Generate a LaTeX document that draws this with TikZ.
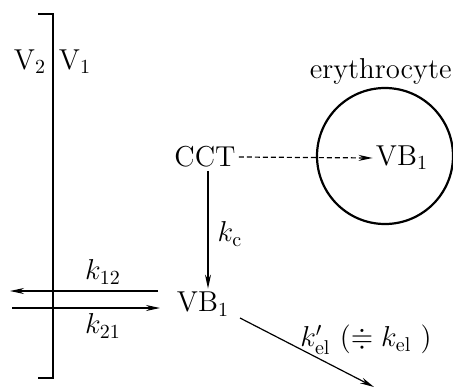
\documentclass[tikz,border=0pt]{standalone}
\usepackage{amssymb}
\usetikzlibrary{arrows.meta}
\begin{document}
\begin{tikzpicture}[x=0.5pt,y=-0.5pt,
  lbl/.style={inner sep=1.5pt,font=\fontsize{14.4}{17}\selectfont},
  arr/.style={line width=0.6pt,-{Stealth[length=7pt,width=3pt]}},
  brk/.style={line width=1.2pt}]
\useasboundingbox (0,0) rectangle (453,390);
\begin{scope}
\clip (0,0) rectangle (453,390);
\draw[line width=1.1pt] (385,156) circle [radius=68];
\end{scope}
% bracket
\coordinate (btl) at (38,14);
\coordinate (bt) at (53,14);
\coordinate (bb) at (53,378);
\coordinate (bbl) at (38,378);
\draw[brk] (btl) -- (bt) -- (bb) -- (bbl);
\node[lbl] (v2) at (30,62) {V$_2$};
\node[lbl] (v1) at (75,62) {V$_1$};
\node[lbl,anchor=east,inner sep=0pt] (ery) at (452,71) {erythrocyte};
\node[lbl] (cct) at (205,157) {CCT};
\node[lbl] (vbu) at (402,158) {VB$_1$};
\node[lbl] (vbl) at (203,304) {VB$_1$};
\node[lbl] (kc) at (230,234) {$k_{\mathrm{c}}$};
\node[lbl] (k12) at (103,272) {$k_{12}$};
\node[lbl] (k21) at (103,326) {$k_{21}$};
\node[lbl] (kel) at (366,340) {$k'_{\mathrm{el}}\ (\doteqdot k_{\mathrm{el}}\ )$};
\coordinate (a12s) at (158,291);
\coordinate (a12e) at (10,291);
\coordinate (a21s) at (12,308);
\coordinate (a21e) at (160,308);
\coordinate (els) at (240,318);
\coordinate (eld) at (374,387);
\draw[arr] (a12s) -- (a12e);
\draw[arr] (a21s) -- (a21e);
\draw[arr,dash pattern=on 2.5pt off 1.5pt] (cct.east) -- (vbu.west);
\draw[arr] (cct.south -| 208,0) -- (vbl.north -| 208,0);
\draw[arr] (els) -- (eld);
\end{tikzpicture}
\end{document}
